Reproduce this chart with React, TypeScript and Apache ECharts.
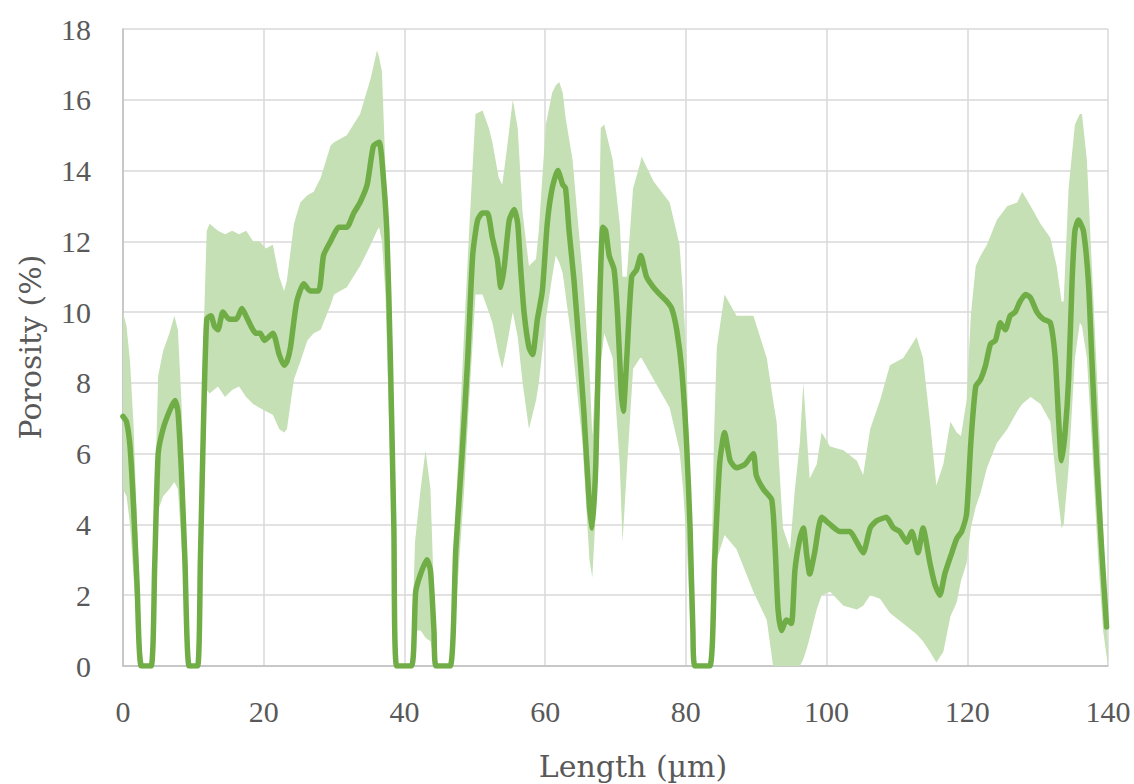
import React, { useEffect, useRef } from "react";
import * as echarts from "echarts";

// X tick values (µm) and Y tick values (%)
const xTicks = [0, 20, 40, 60, 80, 100, 120, 140];
const yTicks = [0, 2, 4, 6, 8, 10, 12, 14, 16, 18];

// Mean porosity line
const lineX = [
  0, 0.5, 1.0, 1.5, 2.0, 2.6, 4.0, 4.5, 5.0, 5.7, 6.6, 7.4, 7.8, 8.3, 8.8, 9.4, 10.6, 11.0, 11.4, 11.9,
  12.5, 13.0, 13.5, 14.2, 15.1, 16.1, 16.9, 17.7, 18.9, 19.5, 20.1, 21.3, 22.2, 22.9, 23.3, 23.8, 24.7, 25.7, 26.6, 27.8,
  28.5, 29.5, 30.7, 31.8, 32.8, 33.7, 34.7, 35.6, 36.4, 36.8, 37.5, 38.0, 38.5, 38.9, 41.0, 41.6, 42.3, 43.2, 43.7, 44.2,
  44.5, 46.5, 47.3, 48.2, 49.0, 49.7, 50.4, 51.1, 51.8, 52.5, 53.2, 53.7, 54.2, 54.9, 55.6, 56.1, 56.5, 57.0, 57.7, 58.2,
  58.9, 59.6, 60.3, 61.0, 61.8, 62.5, 62.9, 63.4, 64.1, 64.8, 65.5, 66.3, 66.7, 67.2, 67.7, 68.2, 68.6, 69.1, 69.8, 70.3,
  70.8, 71.1, 71.6, 72.3, 73.0, 73.6, 74.4, 75.4, 76.3, 77.3, 78.0, 78.7, 79.4, 80.1, 80.6, 81.0, 81.3, 83.4, 84.1, 84.8,
  85.5, 86.3, 87.2, 88.4, 89.6, 90.0, 91.0, 92.2, 92.7, 93.1, 93.6, 94.3, 95.0, 95.5, 96.2, 96.7, 97.2, 97.6, 98.3, 99.3,
  100.5, 101.9, 103.3, 104.3, 105.2, 106.2, 107.1, 108.5, 109.5, 110.4, 111.4, 112.1, 113.0, 113.7, 114.7, 115.4, 116.1, 116.8, 117.8, 118.5,
  119.2, 119.9, 120.5, 121.2, 121.9, 122.6, 123.3, 124.0, 124.7, 125.4, 126.1, 126.8, 127.5, 128.3, 129.0, 129.9, 130.8, 131.8, 132.5, 133.0,
  133.4, 133.9, 134.4, 134.9, 135.3, 135.8, 136.5, 137.2, 137.7, 138.4, 139.1, 139.8,
];
const lineY = [
  7.05, 6.9, 6.2, 4.5, 2.3, 0, 0, 2.8, 6.0, 6.7, 7.2, 7.5, 7.2, 5.5, 3.0, 0, 0, 3.0, 6.5, 9.8,
  9.9, 9.6, 9.5, 10.0, 9.8, 9.8, 10.1, 9.8, 9.4, 9.4, 9.2, 9.4, 8.8, 8.5, 8.6, 9.0, 10.3, 10.8, 10.6, 10.6,
  11.6, 12.0, 12.4, 12.4, 12.8, 13.1, 13.6, 14.7, 14.8, 14.3, 12.3, 8.7, 3.9, 0, 0, 2.1, 2.6, 3.0, 2.7, 1.0,
  0, 0, 3.3, 6.0, 8.7, 11.6, 12.6, 12.8, 12.8, 12.1, 11.5, 10.7, 11.3, 12.6, 12.9, 12.5, 11.3, 10.0, 9.0, 8.8,
  9.8, 10.6, 12.5, 13.5, 14.0, 13.6, 13.5, 12.3, 10.9, 9.1, 7.2, 4.5, 3.9, 5.7, 9.9, 12.4, 12.3, 11.6, 11.2, 9.9,
  7.8, 7.2, 8.7, 11.0, 11.2, 11.6, 11.0, 10.7, 10.5, 10.3, 10.1, 9.5, 8.4, 6.3, 3.9, 1.0, 0, 0, 3.0, 5.7,
  6.6, 5.8, 5.6, 5.7, 6.0, 5.4, 5.0, 4.7, 3.3, 1.6, 1.0, 1.3, 1.2, 2.7, 3.6, 3.9, 3.1, 2.6, 3.2, 4.2,
  4.0, 3.8, 3.8, 3.5, 3.2, 3.9, 4.1, 4.2, 3.9, 3.8, 3.5, 3.8, 3.2, 3.9, 2.9, 2.3, 2.0, 2.6, 3.2, 3.6,
  3.8, 4.3, 6.3, 7.9, 8.1, 8.5, 9.1, 9.2, 9.7, 9.5, 9.9, 10.0, 10.3, 10.5, 10.4, 10.0, 9.8, 9.7, 8.7, 6.9,
  5.8, 6.6, 8.1, 10.9, 12.3, 12.6, 12.3, 10.9, 8.7, 5.7, 3.3, 1.1,
];

// Spread band (lower and upper bounds)
const bandX = [
  0, 0.5, 1.0, 1.5, 2.0, 2.6, 3.0, 4.0, 4.5, 5.0, 5.7, 6.6, 7.3, 7.8, 8.3, 8.8, 9.4, 9.8, 10.6, 11.0,
  11.4, 11.9, 12.3, 13.5, 14.5, 15.5, 16.5, 17.5, 18.5, 19.4, 20.3, 21.3, 22.2, 22.9, 23.3, 24.3, 25.2, 26.2, 27.1, 28.1,
  29.5, 30.0, 31.8, 33.7, 35.2, 36.1, 36.4, 36.8, 37.3, 37.8, 38.3, 38.9, 41.0, 41.5, 42.3, 43.0, 43.7, 44.2, 44.5, 46.5,
  47.3, 47.8, 48.5, 49.2, 50.1, 51.1, 52.0, 52.5, 53.4, 53.9, 54.5, 55.4, 56.1, 56.8, 57.7, 58.7, 59.1, 60.1, 61.0, 61.5,
  62.0, 62.5, 62.9, 63.9, 65.3, 66.3, 66.7, 67.4, 67.9, 68.4, 69.6, 70.6, 71.0, 71.6, 72.5, 73.5, 73.7, 75.4, 77.7, 79.1,
  79.6, 80.1, 80.8, 81.2, 83.4, 84.0, 84.4, 85.5, 87.2, 89.6, 91.5, 92.4, 92.9, 93.8, 94.8, 95.5, 96.2, 96.7, 97.2, 97.6,
  98.6, 99.3, 100.5, 102.4, 104.3, 105.2, 106.2, 107.6, 109.0, 110.9, 112.8, 113.7, 114.7, 115.6, 116.6, 117.6, 118.5, 119.1, 119.9, 120.5,
  121.2, 121.9, 122.8, 124.2, 125.7, 127.1, 127.8, 129.0, 130.4, 131.8, 132.7, 133.4, 133.7, 134.4, 135.3, 136.0, 136.3, 137.0, 137.7, 138.6,
  139.3, 140.0,
];
const bandLower = [
  5.0, 4.8, 4.0, 2.5, 1.0, 0, 0, 0, 1.0, 4.4, 4.8, 5.0, 5.2, 5.0, 3.5, 1.5, 0, 0, 0, 1.5,
  4.5, 7.8, 7.7, 7.9, 7.6, 7.8, 7.9, 7.6, 7.4, 7.3, 7.2, 7.1, 6.7, 6.6, 6.7, 8.1, 8.6, 9.2, 9.4, 9.5,
  10.2, 10.5, 10.7, 11.3, 11.9, 12.3, 12.4, 12.0, 10.5, 7.0, 3.0, 0, 0, 1.0, 1.0, 0.8, 0.7, 0.2, 0, 0,
  1.5, 3.0, 5.0, 7.5, 10.5, 10.5, 10.0, 9.7, 8.8, 8.4, 9.0, 10.0, 9.3, 8.0, 6.7, 7.5, 8.0, 9.8, 11.0, 11.6,
  11.4, 11.1, 10.5, 9.0, 6.3, 3.0, 2.5, 5.1, 8.5, 9.4, 8.7, 5.7, 3.5, 5.5, 8.4, 8.7, 8.7, 8.1, 7.3, 6.1,
  5.0, 3.5, 0.5, 0, 0, 1.5, 3.0, 3.7, 3.3, 2.1, 1.3, 0, 0, 0, 0, 0, 0, 0.2, 0.5, 0.8,
  1.6, 2.0, 2.1, 1.7, 1.6, 1.7, 2.0, 1.9, 1.5, 1.2, 0.9, 0.7, 0.4, 0.1, 0.4, 1.4, 1.8, 2.4, 2.9, 3.9,
  4.5, 4.9, 5.6, 6.3, 6.7, 7.2, 7.4, 7.6, 7.4, 6.9, 5.1, 3.9, 4.0, 5.6, 8.7, 9.7, 9.6, 8.7, 6.3, 3.0,
  1.0, 0,
];
const bandUpper = [
  10.0, 9.6, 8.6, 6.8, 4.0, 0.5, 0, 0, 4.5, 8.2, 8.9, 9.4, 9.9, 9.5, 7.5, 4.5, 0.3, 0, 0, 5.0,
  9.0, 12.3, 12.5, 12.3, 12.2, 12.3, 12.2, 12.3, 12.0, 12.0, 11.8, 11.9, 11.0, 10.6, 10.9, 12.5, 13.1, 13.3, 13.4, 13.8,
  14.7, 14.8, 15.0, 15.6, 16.6, 17.4, 17.2, 16.8, 14.1, 10.5, 5.5, 0, 0, 3.5, 5.0, 6.1, 5.0, 2.0, 0, 0,
  4.5, 6.5, 9.5, 12.3, 15.6, 15.7, 15.2, 14.8, 13.8, 13.6, 14.5, 16.0, 15.2, 12.8, 11.3, 11.5, 12.3, 15.3, 16.2, 16.4,
  16.5, 16.2, 15.5, 14.3, 11.1, 8.4, 6.5, 9.0, 15.2, 15.3, 14.3, 12.5, 11.0, 11.0, 13.5, 14.2, 14.4, 13.7, 13.1, 11.9,
  10.5, 8.7, 2.7, 0, 0, 6.5, 9.0, 10.5, 9.9, 9.9, 8.7, 7.5, 6.9, 3.9, 3.3, 5.0, 6.3, 8.0, 6.5, 5.3,
  5.7, 6.6, 6.2, 6.1, 5.8, 5.4, 6.7, 7.5, 8.5, 8.7, 9.3, 8.7, 6.9, 5.1, 5.7, 6.9, 6.6, 6.5, 7.5, 9.9,
  11.3, 11.6, 11.9, 12.6, 13.0, 13.1, 13.4, 13.0, 12.5, 12.1, 11.3, 10.3, 10.3, 13.5, 15.3, 15.6, 15.6, 14.3, 11.3, 7.5,
  3.9, 0.4,
];

const TICK_FONT = "'Liberation Serif', 'Times New Roman', serif";
const TITLE_FONT = "'DejaVu Serif', serif";
const TEXT_COLOR = "#595959";

export default function App() {
  const ref = useRef<HTMLDivElement>(null);

  useEffect(() => {
    document.body.style.margin = "0";
    if (!ref.current) return;
    const chart = echarts.init(ref.current, undefined, { renderer: "svg" });

    const bandData = bandX.map((x, i) => [x, bandLower[i], bandUpper[i]]);
    const lineData = lineX.map((x, i) => [x, lineY[i]]);

    chart.setOption({
      animation: false,
      backgroundColor: "#ffffff",
      grid: { left: 123, right: 26, top: 29, bottom: 118, containLabel: false },
      xAxis: {
        type: "value",
        min: xTicks[0],
        max: xTicks[xTicks.length - 1],
        interval: 20,
        axisLine: { show: true, lineStyle: { color: "#bfbfbf", width: 1.5 } },
        axisTick: { show: false },
        splitLine: { show: true, lineStyle: { color: "#d9d9d9", width: 1.5 } },
        axisLabel: {
          color: TEXT_COLOR,
          fontFamily: TICK_FONT,
          fontSize: 30,
          margin: 30,
        },
      },
      yAxis: {
        type: "value",
        min: yTicks[0],
        max: yTicks[yTicks.length - 1],
        interval: 2,
        axisLine: { show: true, lineStyle: { color: "#bfbfbf", width: 1.5 } },
        axisTick: { show: false },
        splitLine: { show: true, lineStyle: { color: "#d9d9d9", width: 1.5 } },
        axisLabel: {
          color: TEXT_COLOR,
          fontFamily: TICK_FONT,
          fontSize: 30,
          margin: 32,
        },
      },
      series: [
        {
          type: "custom",
          coordinateSystem: "cartesian2d",
          silent: true,
          encode: { x: 0, y: [1, 2] },
          data: bandData,
          renderItem: (params: any, api: any) => {
            if (params.dataIndex !== 0) return null;
            const pts: number[][] = [];
            for (let i = 0; i < bandX.length; i++) pts.push(api.coord([bandX[i], bandUpper[i]]));
            for (let i = bandX.length - 1; i >= 0; i--) pts.push(api.coord([bandX[i], bandLower[i]]));
            return {
              type: "polygon",
              shape: { points: pts },
              style: { fill: "#c5e0b4", stroke: "none" },
            };
          },
          z: 2,
        },
        {
          type: "line",
          data: lineData,
          showSymbol: false,
          symbol: "none",
          smooth: 0.2,
          silent: true,
          lineStyle: { color: "#70ad47", width: 5.5, join: "round", cap: "round" },
          z: 3,
        },
      ],
      graphic: [
        {
          type: "text",
          x: 633,
          y: 766,
          style: {
            text: "Length (µm)",
            font: `30px ${TITLE_FONT}`,
            fill: TEXT_COLOR,
            align: "center",
            verticalAlign: "middle",
          },
        },
        {
          type: "text",
          x: 30,
          y: 347,
          rotation: Math.PI / 2,
          style: {
            text: "Porosity (%)",
            font: `30px ${TITLE_FONT}`,
            fill: TEXT_COLOR,
            align: "center",
            verticalAlign: "middle",
          },
        },
      ],
    });

    return () => chart.dispose();
  }, []);

  return <div ref={ref} style={{ width: 1134, height: 784 }} />;
}
